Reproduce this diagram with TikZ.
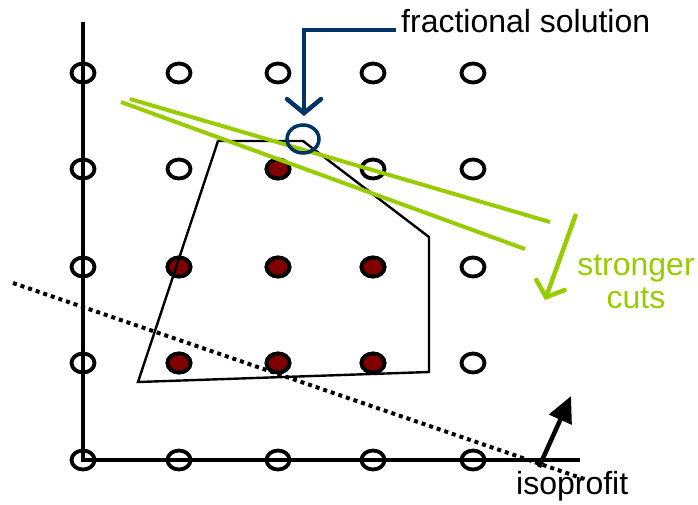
\documentclass[tikz,border=0pt]{standalone}
\usepackage{fontspec}
\setmainfont{Liberation Sans}
\usetikzlibrary{arrows.meta,shapes.geometric}
\definecolor{cutgreen}{RGB}{153,204,0}
\definecolor{fracblue}{RGB}{0,51,102}
\definecolor{dotred}{RGB}{128,0,0}
\tikzset{
  lattice/.style={draw=black,line width=3.8pt,ellipse,minimum width=23pt,minimum height=19pt,inner sep=0pt},
  intpt/.style={lattice,fill=dotred},
  cutline/.style={draw=cutgreen,line width=4pt},
  lbl/.style={font=\fontsize{32}{35}\selectfont,inner sep=0pt},
}
\begin{document}
\begin{tikzpicture}[x=1pt,y=-1pt]
\useasboundingbox (0,0) rectangle (698,504);
% axes
\coordinate (ytop) at (83,22);
\coordinate (orig) at (83,460);
\coordinate (xend) at (580,460);
\draw[line width=3.6pt] (ytop) -- (orig) -- (xend);
% lattice points
\foreach \c/\x in {1/83,2/179,3/278,4/373,5/473}{
  \foreach \r/\y in {1/73,2/169,3/267,4/363,5/460}{
    \node[lattice] (p\c\r) at (\x,\y) {};
  }
}
\foreach \c/\r in {3/2,2/3,3/3,4/3,2/4,3/4,4/4}{
  \node[intpt] at (p\c\r) {};
}
% polygon
\coordinate (v1) at (218,141);
\coordinate (v2) at (303,141);
\coordinate (v3) at (429,237);
\coordinate (v4) at (429,372);
\coordinate (v5) at (138,382);
\draw[line width=2.4pt,line join=miter] (v1) -- (v2) -- (v3) -- (v4) -- (v5) -- cycle;
% dotted isoprofit line
\coordinate (d1) at (13,283);
\coordinate (d2) at (584,479);
\draw[line width=4pt,dash pattern=on 4pt off 4pt] (d1) -- (d2);
% cuts
\coordinate (c1a) at (130,99);
\coordinate (c1b) at (550,222);
\coordinate (c2a) at (121,102);
\coordinate (c2b) at (525,249);
\draw[cutline] (c1a) -- (c1b);
\draw[cutline] (c2a) -- (c2b);
% fractional solution
\node[draw=fracblue,line width=3.5pt,ellipse,minimum width=32pt,minimum height=28pt,inner sep=0pt] (frac) at (303,139) {};
\node[lbl,anchor=base west] (fractxt) at (401,32) {fractional solution};
\coordinate (bcorner) at (304,30);
\draw[fracblue,line width=4.5pt,-{Straight Barb[length=14pt,width=34pt,line cap=round]}] (396,30) -- (bcorner) -- (304,116);
% stronger cuts
\node[lbl,text=cutgreen,anchor=base] (cuttxt1) at (636,275) {stronger};
\node[lbl,text=cutgreen,anchor=base] (cuttxt2) at (636,308) {cuts};
\coordinate (ga) at (576,214);
\coordinate (gb) at (545,300);
\draw[cutgreen,line width=4.5pt,-{Straight Barb[length=13pt,width=30pt,line cap=round]}] (ga) -- (gb);
% isoprofit
\node[lbl,anchor=base west] (isotxt) at (516,494) {isoprofit};
\coordinate (ia) at (539,467);
\coordinate (ib) at (571,396);
\draw[line width=4.5pt,-{Triangle[length=26pt,width=24pt]}] (ia) -- (ib);
\end{tikzpicture}
\end{document}
